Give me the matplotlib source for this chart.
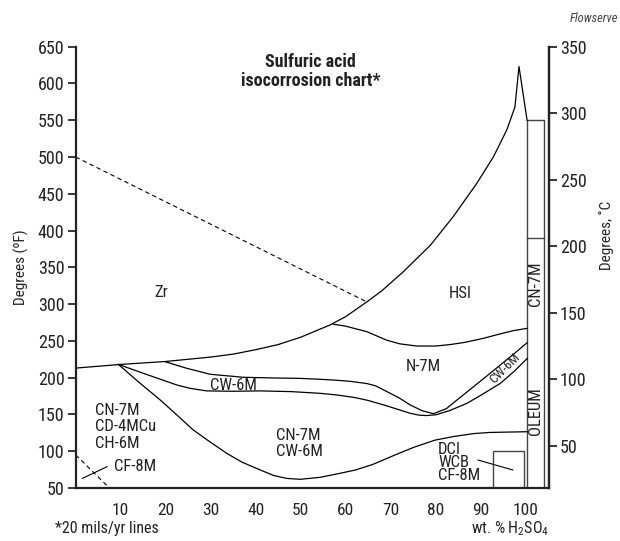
import matplotlib
matplotlib.use("Agg")
import matplotlib.pyplot as plt
from matplotlib import font_manager
from matplotlib.patches import Rectangle

# pick a condensed sans that is installed
have = set(f.name for f in font_manager.fontManager.ttflist)
wanted = ['Roboto Condensed', 'Archivo Narrow', 'PT Sans Narrow', 'Liberation Sans Narrow',
          'IBM Plex Sans Condensed', 'Fira Sans Condensed', 'Barlow Semi Condensed',
          'Sofia Sans Condensed', 'Encode Sans Condensed', 'DejaVu Sans']
FONT = [n for n in wanted if n in have][0]

plt.rcParams['font.family'] = [FONT, 'DejaVu Sans']
plt.rcParams['mathtext.fontset'] = 'custom'
plt.rcParams['mathtext.rm'] = FONT
plt.rcParams['mathtext.default'] = 'regular'

TXT = '#222222'

# ---- data (x = wt.% H2SO4, y = degrees F) ----
zr_x = [0, 10, 20, 30, 35, 40, 45, 50, 56.5, 60, 64.7, 68, 72.8, 78.8, 83.9, 89.1, 92.8, 95.8, 97.6, 98.5, 100.3]
zr_y = [213, 218, 222, 228, 232, 238, 245, 255, 271.6, 283, 303, 318, 344, 380, 419, 464, 500, 537, 568, 623, 550]

hsi_x = [57.3, 60, 64.7, 69.1, 72, 75.8, 80, 83.2, 86.5, 90.6, 94, 97.3, 100.3]
hsi_y = [272.6, 270, 262.5, 251, 246, 243, 243, 245, 248, 253.5, 259, 264, 267]

cw_top_x = [19.9, 24.7, 29.9, 37.3, 44.7, 49.9, 54.3, 57.9, 61, 64.7, 66.6, 69.9, 72, 74.3, 77, 79.5,
            82.4, 85, 88.4, 91.5, 94.3, 97.5, 100.3]
cw_top_y = [221.7, 212.7, 204.6, 200.5, 199.5, 199, 197.8, 196.5, 195, 192, 189, 178.7, 172, 163, 155, 151,
            158, 171, 187.7, 203, 217, 233, 247.5]

cw_low_x = [9.5, 15, 18.3, 22.5, 25.4, 29.1, 35, 41, 48, 54.3, 58, 62, 65, 68.4, 71, 74.3, 76.3, 78,
            80, 83, 86.9, 90, 94.3, 97.5, 100.3]
cw_low_y = [218, 206, 199, 190, 185.5, 182, 181.5, 182, 181, 178.7, 176.5, 173, 169, 163, 158, 151.6, 149, 148.5,
            149.5, 155, 165, 176, 192, 209, 226]

cn_x = [9.5, 14, 18.8, 22, 26.1, 30, 33.6, 37, 41, 44, 46.9, 49.9, 54.3, 58, 62.2, 66, 71, 75, 79.8, 84,
        88.5, 92, 96, 100.3]
cn_y = [218, 194, 169.6, 152, 129, 112, 97, 85, 74.5, 67, 63, 61.8, 64.5, 69, 74.5, 82, 95, 105, 115, 120,
        124, 125.5, 126, 126.5]

zr_dash_x = [0, 64.7]
zr_dash_y = [500, 303]
cf_dash_x = [0, 7]
cf_dash_y = [95, 53]
cf_tick_x = [1.5, 7]
cf_tick_y = [63, 79]
dci_lead_x = [89.4, 97.1]
dci_lead_y = [88, 74.5]

xticks = [10, 20, 30, 40, 50, 60, 70, 80, 90, 100]
f_ticks = list(range(50, 651, 50))
c_ticks = [50, 100, 150, 200, 250, 300, 350]

# ---- figure ----
fig = plt.figure(figsize=(6.2, 5.41), dpi=100)
ax = fig.add_axes([0.122, 0.098, 0.763, 0.8157])
ax.set_xlim(0, 105.1)
ax.set_ylim(50, 650)

lw = 0.9
ax.plot(zr_x, zr_y, color='black', lw=lw)
ax.plot(hsi_x, hsi_y, color='black', lw=lw)
ax.plot(cw_top_x, cw_top_y, color='black', lw=lw)
ax.plot(cw_low_x, cw_low_y, color='black', lw=lw)
ax.plot(cn_x, cn_y, color='black', lw=lw)
ax.plot(zr_dash_x, zr_dash_y, color='black', lw=0.8, ls=(0, (4, 3)))
ax.plot(cf_dash_x, cf_dash_y, color='black', lw=0.8, ls=(0, (4, 3)))
ax.plot(cf_tick_x, cf_tick_y, color='black', lw=0.8)
ax.plot(dci_lead_x, dci_lead_y, color='black', lw=0.8)

# boxes at the right edge
ax.add_patch(Rectangle((100.3, 50), 3.7, 500, fill=False, ec='#444444', lw=1))
ax.plot([100.3, 104], [390, 390], color='#444444', lw=1)
ax.add_patch(Rectangle((92.8, 50), 6.8, 50, fill=False, ec='#444444', lw=1))

fs = 12
ax.text(19, 316, 'Zr', fontsize=fs, color=TXT, ha='center', va='center')
ax.text(85.4, 315, 'HSI', fontsize=fs, color=TXT, ha='center', va='center')
ax.text(77.2, 215, 'N-7M', fontsize=fs, color=TXT, ha='center', va='center')
ax.text(35, 190, 'CW-6M', fontsize=fs, color=TXT, ha='center', va='center')
ax.text(4.2, 133, 'CN-7M\nCD-4MCu\nCH-6M', fontsize=fs, color=TXT, ha='left', va='center',
        linespacing=1.1)
ax.text(8.6, 79, 'CF-8M', fontsize=fs, color=TXT, ha='left', va='center')
ax.text(44.6, 110.5, 'CN-7M\nCW-6M', fontsize=fs, color=TXT, ha='left', va='center', linespacing=1.1)
ax.text(80.5, 85, 'DCI\nWCB\nCF-8M', fontsize=fs, color=TXT, ha='left', va='center', linespacing=0.85)
ax.text(95.4, 212.7, 'CW-6M', fontsize=9.5, color=TXT, ha='center', va='center', rotation=45)
ax.text(102.15, 328, 'CN-7M', fontsize=fs, color=TXT, ha='center', va='center', rotation=90)
ax.text(102.15, 155, 'OLEUM', fontsize=fs, color=TXT, ha='center', va='center', rotation=90)

ax.spines['top'].set_visible(False)
for s in ['left', 'bottom', 'right']:
    ax.spines[s].set_linewidth(1.6)
    ax.spines[s].set_color('#222222')

ax.set_xticks(xticks)
ax.tick_params(axis='x', length=0, pad=11, labelsize=12.5, labelcolor=TXT)
ax.set_yticks(f_ticks)
ax.tick_params(axis='y', direction='out', length=6, width=1.1, labelsize=13, labelcolor=TXT, pad=2)
ax.set_ylabel('Degrees (ºF)', fontsize=11, color=TXT, labelpad=6)

ax2 = ax.twinx()
ax2.set_ylim(18.3, 350)
ax2.set_yticks(c_ticks)
ax2.tick_params(axis='y', direction='out', length=6, width=1.1, labelsize=13, labelcolor=TXT, pad=2)
for s in ['top', 'left', 'bottom']:
    ax2.spines[s].set_visible(False)
ax2.spines['right'].set_linewidth(1.6)
ax2.spines['right'].set_color('#222222')

fig.text(0.978, 0.565, 'Degrees, ˚C', fontsize=11, color=TXT, rotation=90, ha='center', va='center')
fig.text(0.501, 0.8675, 'Sulfuric acid\nisocorrosion chart*', fontsize=13, fontweight='bold', color=TXT,
         ha='center', va='center', linespacing=1.1)
fig.text(0.997, 0.966, 'Flowserve', fontsize=9, style='italic', color='#444444', ha='right', va='center')
fig.text(0.089, 0.014, '*20 mils/yr lines', fontsize=11.5, color=TXT, ha='left', va='baseline')
fig.text(0.886, 0.014, 'wt. % H$_2$SO$_4$', fontsize=11.5, color=TXT, ha='right', va='baseline')

fig.savefig('out.png', dpi=100)
